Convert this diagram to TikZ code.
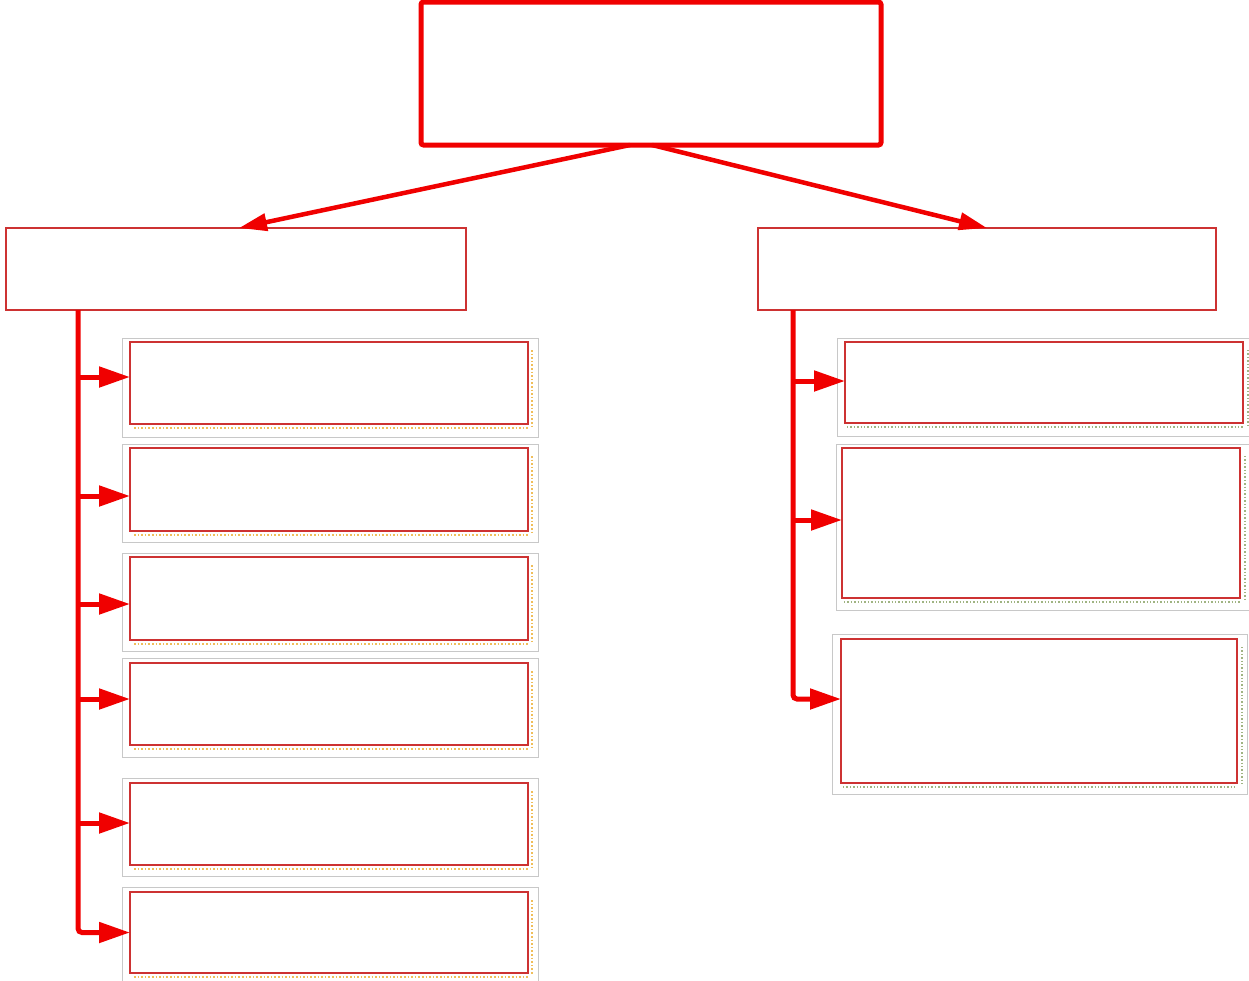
\documentclass[tikz,border=0pt]{standalone}
\usetikzlibrary{arrows.meta}
\definecolor{lred}{RGB}{240,0,0}
\definecolor{bred}{RGB}{205,50,50}
\definecolor{fgray}{RGB}{200,200,200}
\definecolor{dotor}{RGB}{240,190,90}
\definecolor{dotgr}{RGB}{160,180,130}
\begin{document}
\begin{tikzpicture}[x=1pt,y=-1pt,
  topbox/.style={draw=lred, line width=5pt, rounded corners=2.5pt, minimum width=460pt, minimum height=143pt, inner sep=0pt, outer sep=0pt, fill=white},
  midbox/.style={draw=bred, line width=1.3pt, minimum width=460pt, minimum height=82pt, inner sep=0pt, outer sep=0pt, fill=white},
  itembox/.style={draw=bred, line width=1.4pt, minimum width=398pt, minimum height=82pt, inner sep=0pt, outer sep=0pt, fill=white},
  frame/.style={draw=fgray, line width=1pt},
  dotline/.style={dotted, line width=1.6pt, draw=dotor},
  dotlineg/.style={dotted, line width=1.4pt, draw=dotgr},
  trunk/.style={draw=lred, line width=5pt, rounded corners=4pt, -{Triangle[length=31pt,width=20pt]}},
  branch/.style={draw=lred, line width=5pt, -{Triangle[length=31pt,width=20pt]}},
  diag/.style={draw=lred, line width=4.5pt, -{Triangle[length=28pt,width=17pt]}}
]
\useasboundingbox (0,0) rectangle (1249,980);
\fill[white] (0,0) rectangle (1249,980);

% frames (drawn first)
\foreach \t/\b in {338/437, 444/542, 553/651, 658/757, 778/876, 887/985}{
  \draw[frame] (122,\t) rectangle (538,\b);
}
\draw[frame] (837,338) rectangle (1252,436);
\draw[frame] (836,444) rectangle (1252,610);
\draw[frame] (832,634) rectangle (1247,794);

% top and middle boxes
\node[topbox] (top) at (651,73.5) {};
\node[midbox] (LM) at (236,269) {};
\node[midbox, minimum width=458pt] (RM) at (987,269) {};

% left items
\node[itembox] (L1) at (329,383) {};
\node[itembox, minimum height=83pt] (L2) at (329,489.5) {};
\node[itembox, minimum height=83pt] (L3) at (329,598.5) {};
\node[itembox] (L4) at (329,704) {};
\node[itembox] (L5) at (329,824) {};
\node[itembox, minimum height=81pt] (L6) at (329,932.5) {};

% right items
\node[itembox, minimum height=81pt] (R1) at (1044,382.5) {};
\node[itembox, minimum height=150pt] (R2) at (1041,523) {};
\node[itembox, minimum width=396pt, minimum height=144pt] (R3) at (1039,711) {};

% dotted shadows
\foreach \n in {L1,L2,L3,L4,L5,L6}{
  \draw[dotline] ([shift={(4,4)}]\n.south west) -- ([shift={(0,4)}]\n.south east);
  \draw[dotline] ([shift={(4,8)}]\n.north east) -- ([shift={(4,2)}]\n.south east);
}
\foreach \n in {R1,R2,R3}{
  \draw[dotlineg] ([shift={(2,4)}]\n.south west) -- ([shift={(0,4)}]\n.south east);
  \draw[dotlineg] ([shift={(5,8)}]\n.north east) -- ([shift={(5,2)}]\n.south east);
}

% diagonal connectors
\draw[diag] ([xshift=-21pt]top.south) -- ([xshift=3pt]LM.north);
\draw[diag] ([xshift=1pt]top.south) -- (RM.north);

% left trunk and branches
\coordinate (ltop) at (78,310);
\coordinate (lb1) at (78,377);
\coordinate (lb2) at (78,496);
\coordinate (lb3) at (78,604);
\coordinate (lb4) at (78,699);
\coordinate (lb5) at (78,823);
\draw[trunk] (ltop) |- (L6.west);
\draw[branch] (lb1) -- (lb1 -| L1.west);
\draw[branch] (lb2) -- (lb2 -| L2.west);
\draw[branch] (lb3) -- (lb3 -| L3.west);
\draw[branch] (lb4) -- (lb4 -| L4.west);
\draw[branch] (lb5) -- (lb5 -| L5.west);

% right trunk and branches
\coordinate (rtop) at (793,310);
\coordinate (rb1) at (793,381);
\coordinate (rb2) at (793,520);
\coordinate (rb3) at (793,699);
\draw[trunk] (rtop) |- (rb3 -| R3.west);
\draw[branch] (rb1) -- (rb1 -| R1.west);
\draw[branch] (rb2) -- (rb2 -| R2.west);
\end{tikzpicture}
\end{document}
